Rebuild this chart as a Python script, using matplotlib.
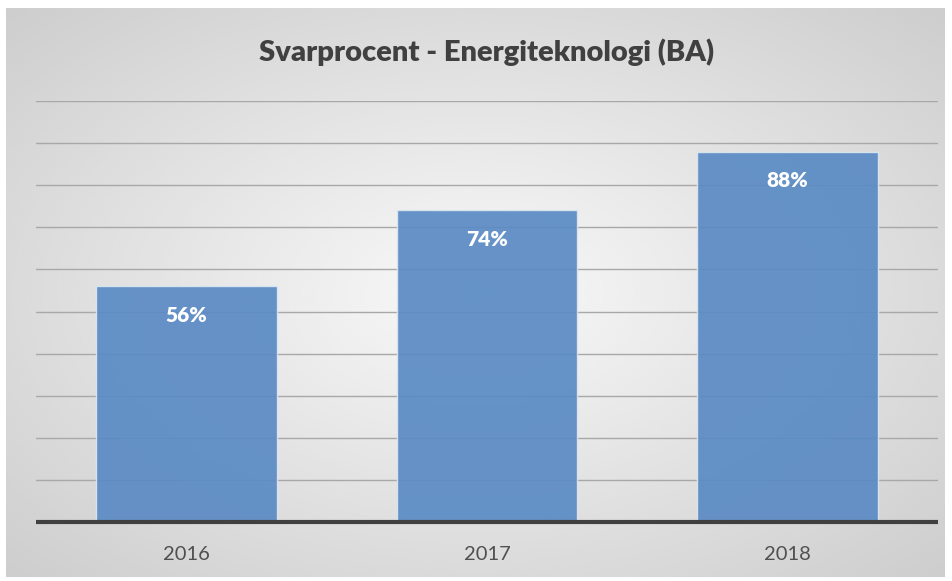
import numpy as np
import matplotlib
matplotlib.use("Agg")
import matplotlib.pyplot as plt

categories = ["2016", "2017", "2018"]
values = [56, 74, 88]
labels = ["56%", "74%", "88%"]
title = "Svarprocent - Energiteknologi (BA)"

plt.rcParams['font.family'] = ['Lato', 'DejaVu Sans']

W, H = 953, 581
fig = plt.figure(figsize=(W / 100, H / 100), dpi=100)
fig.patch.set_facecolor("white")

# background radial gradient panel
bg = fig.add_axes([6 / W, 1 - 577 / H, (945 - 6) / W, (577 - 8) / H])
yy, xx = np.mgrid[-1:1:300j, -1:1:500j]
r = np.sqrt((xx / 1.0) ** 2 + (yy / 1.0) ** 2) / np.sqrt(2)
grad = 0.975 - 0.17 * r
bg.imshow(grad, cmap="gray", vmin=0, vmax=1, aspect="auto", extent=[0, 1, 0, 1], interpolation="bicubic")
bg.set_axis_off()

ax = fig.add_axes([36 / W, 1 - 522 / H, (938 - 36) / W, (522 - 101) / H])
ax.patch.set_alpha(0)
x = np.arange(len(categories))
bars = ax.bar(x, values, width=0.6, color="#5b8bc4", alpha=0.93, edgecolor="#dce6f2", linewidth=1.0, zorder=3)
ax.set_xlim(-0.5, 2.5)
ax.set_ylim(0, 100)
ax.set_yticks(np.arange(10, 101, 10))
ax.yaxis.grid(True, color="#a8a8a8", linewidth=1.0, zorder=1)
ax.tick_params(axis="y", left=False, labelleft=False)
ax.set_xticks(x)
ax.set_xticklabels(categories, fontsize=14.5, color="#505050")
ax.tick_params(axis="x", length=0, pad=17)
for s in ["top", "right", "left"]:
    ax.spines[s].set_visible(False)
ax.spines["bottom"].set_color("#404040")
ax.spines["bottom"].set_linewidth(3)
ax.spines["bottom"].set_capstyle("butt")
ax.spines["bottom"].set_zorder(4)

for xi, v, lab in zip(x, values, labels):
    ax.annotate(lab, (xi, v), xytext=(0, -21), textcoords="offset points",
                ha="center", va="center", color="white", fontsize=15, fontweight="heavy", zorder=5)

fig.text((36 + 938) / 2 / W, 1 - 52 / H, title, ha="center", va="center",
         fontsize=21, fontweight="heavy", color="#404040")

fig.savefig("out.png", dpi=100)
